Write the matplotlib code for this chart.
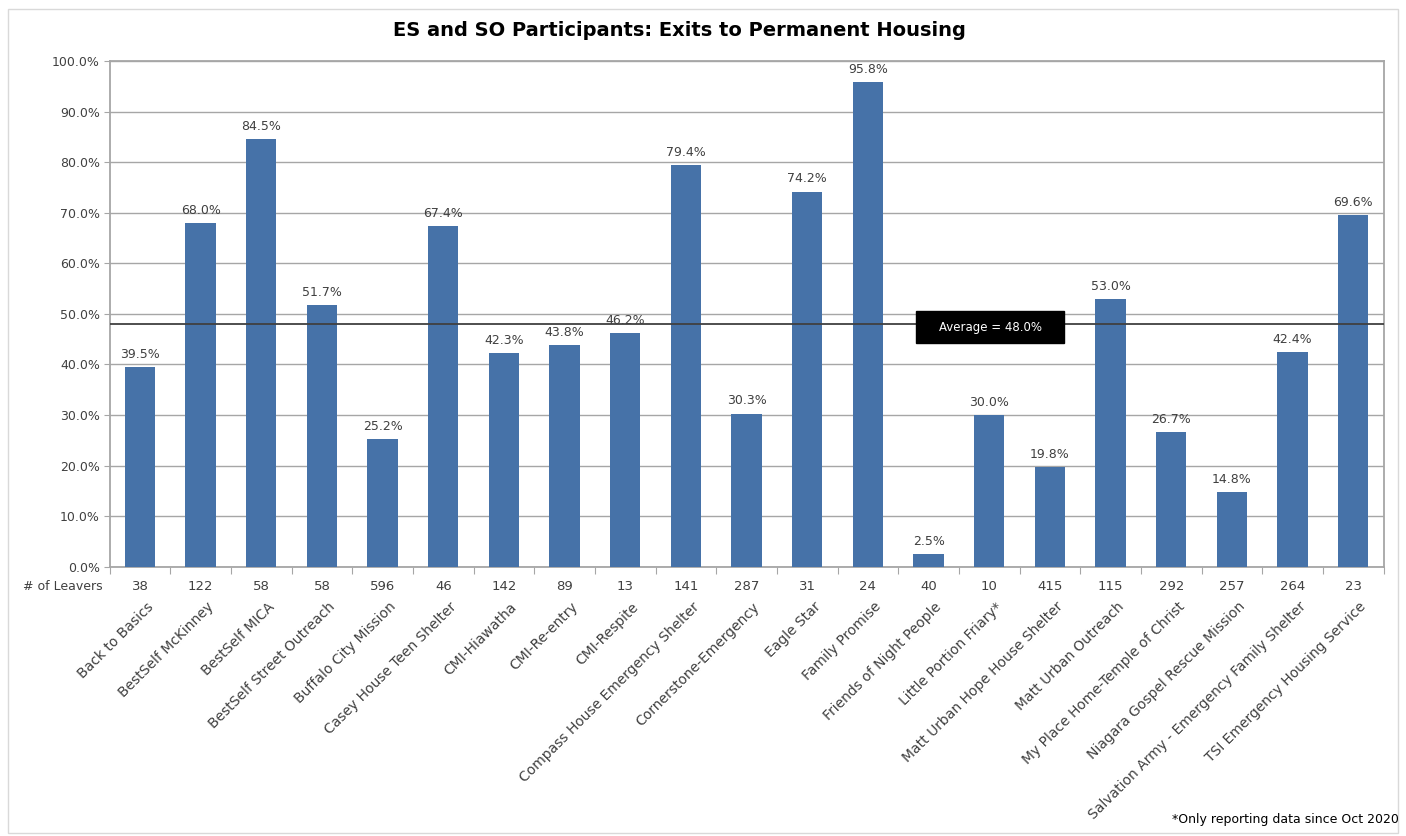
import matplotlib
matplotlib.use('Agg')
import matplotlib.pyplot as plt
import numpy as np
from matplotlib.patches import Rectangle

# data
programs = ['Back to Basics', 'BestSelf McKinney', 'BestSelf MICA', 'BestSelf Street Outreach',
            'Buffalo City Mission', 'Casey House Teen Shelter', 'CMI-Hiawatha', 'CMI-Re-entry',
            'CMI-Respite', 'Compass House Emergency Shelter', 'Cornerstone-Emergency', 'Eagle Star',
            'Family Promise', 'Friends of Night People', 'Little Portion Friary*',
            'Matt Urban Hope House Shelter', 'Matt Urban Outreach', 'My Place Home-Temple of Christ',
            'Niagara Gospel Rescue Mission', 'Salvation Army - Emergency Family Shelter',
            'TSI Emergency Housing Service']
pct_exits = [39.5, 68.0, 84.5, 51.7, 25.2, 67.4, 42.3, 43.8, 46.2, 79.4, 30.3, 74.2,
             95.8, 2.5, 30.0, 19.8, 53.0, 26.7, 14.8, 42.4, 69.6]
leavers = [38, 122, 58, 58, 596, 46, 142, 89, 13, 141, 287, 31, 24, 40, 10, 415, 115,
           292, 257, 264, 23]
average = 48.0

plt.rcParams['font.family'] = ['DejaVu Sans']
bar_color = '#4672A8'
grid_color = '#A6A6A6'
text_color = '#404040'

fig = plt.figure(figsize=(14.06, 8.36), dpi=100)
# light outer frame of the chart area
fig.patches.append(Rectangle((0.006, 0.004), 0.988, 0.985, transform=fig.transFigure,
                             fill=False, edgecolor='#D9D9D9', linewidth=1.0))

ax = fig.add_axes([0.078, 0.322, 0.906, 0.605])
x = np.arange(len(programs))
ax.bar(x, pct_exits, width=0.5, color=bar_color, zorder=3)

for xi, v in zip(x, pct_exits):
    ax.text(xi, v + 1.2, f'{v:.1f}%', ha='center', va='bottom', fontsize=9, color=text_color)

ax.axhline(average, color='#404040', linewidth=1.3, zorder=4)
# black label box for the average line
ax.add_patch(Rectangle((12.8, 44.3), 2.44, 6.3, facecolor='black', edgecolor='black', zorder=5))
ax.text(14.02, 47.3, f'Average = {average:.1f}%', ha='center', va='center',
        fontsize=8.5, color='white', zorder=6)

ax.set_xlim(-0.5, len(programs) - 0.5)
ax.set_ylim(0, 100)
ax.set_yticks(np.arange(0, 101, 10))
ax.set_yticklabels([f'{t:.1f}%' for t in np.arange(0, 101, 10)], fontsize=9, color=text_color)
ax.yaxis.grid(True, color=grid_color, linewidth=1.0, zorder=0)
ax.tick_params(axis='y', length=4, color=grid_color, pad=3)

# category boundary ticks along the x axis, names below
ax.set_xticks(np.arange(-0.5, len(programs), 1.0))
ax.set_xticklabels([])
ax.tick_params(axis='x', length=5, color=grid_color)
for xi, n in zip(x, leavers):
    ax.text(xi, -2.6, str(n), ha='center', va='top', fontsize=9.5, color=text_color)
ax.text(-0.62, -2.6, '# of Leavers', ha='right', va='top', fontsize=9, color=text_color)
for xi, name in zip(x, programs):
    ax.text(xi + 0.1, -6.5, name, ha='right', va='top', rotation=45,
            rotation_mode='anchor', fontsize=10, color=text_color)

for side in ['top', 'right', 'left', 'bottom']:
    ax.spines[side].set_color(grid_color)
    ax.spines[side].set_linewidth(1.3)

fig.suptitle('ES and SO Participants: Exits to Permanent Housing', x=0.483, y=0.975,
             fontsize=14, fontweight='bold', color='black')
fig.text(0.995, 0.012, '*Only reporting data since Oct 2020', ha='right', va='bottom',
         fontsize=9, color='black')

fig.savefig('out.png', dpi=100)
